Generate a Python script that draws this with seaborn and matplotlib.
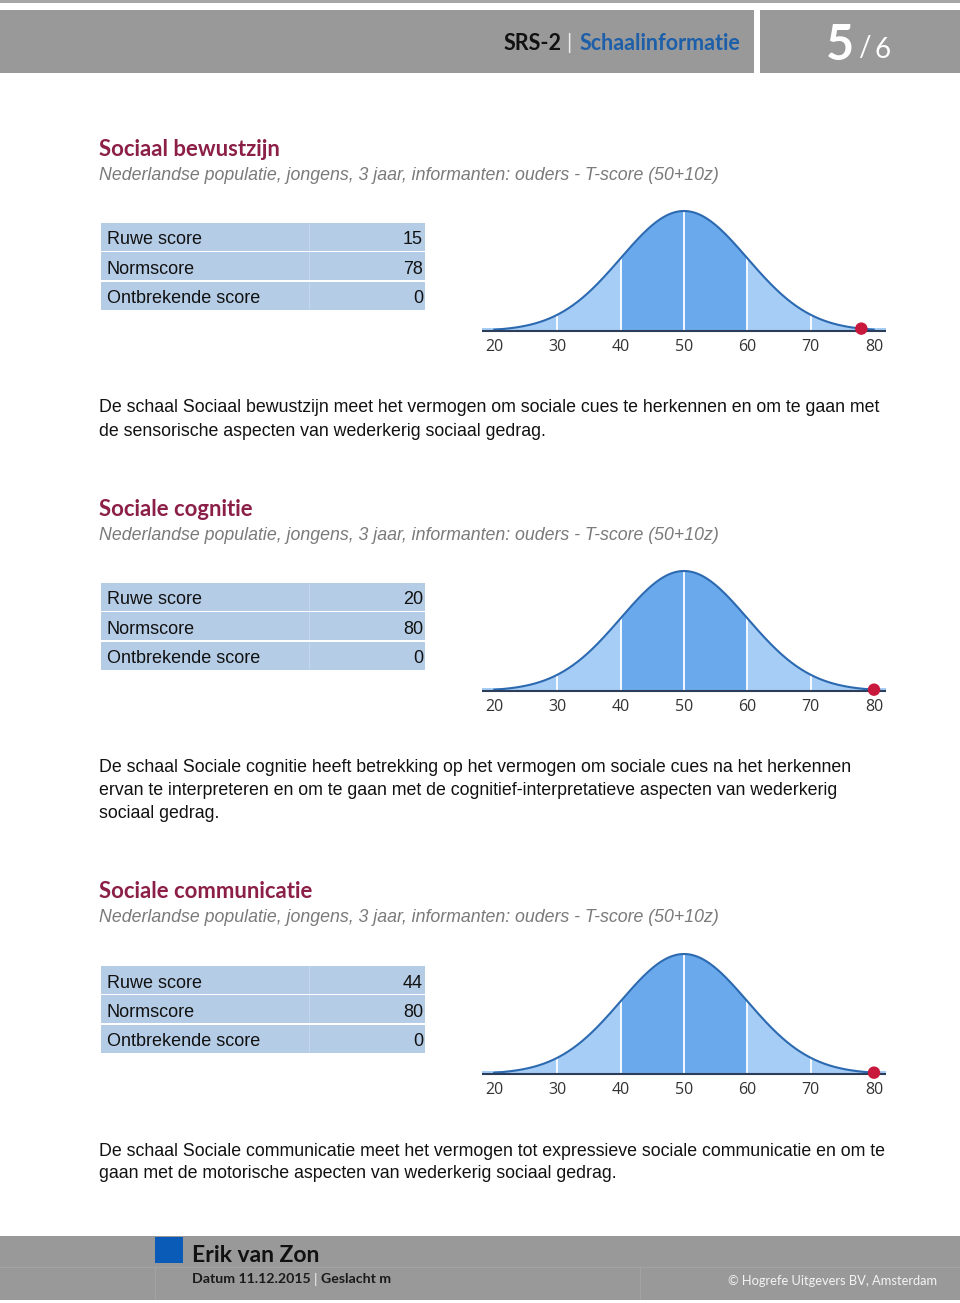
import numpy as np
import matplotlib
matplotlib.use("Agg")
import matplotlib.pyplot as plt
from matplotlib.patches import Rectangle
import seaborn as sns

# ---------------- data ----------------
scale_titles = ["Sociaal bewustzijn", "Sociale cognitie", "Sociale communicatie"]
subtitle = "Nederlandse populatie, jongens, 3 jaar, informanten: ouders - T-score (50+10z)"
row_labels = ["Ruwe score", "Normscore", "Ontbrekende score"]
raw_scores = [15, 20, 44]
norm_scores = [78, 80, 80]
missing_scores = [0, 0, 0]
descriptions = [
    ["De schaal Sociaal bewustzijn meet het vermogen om sociale cues te herkennen en om te gaan met",
     "de sensorische aspecten van wederkerig sociaal gedrag."],
    ["De schaal Sociale cognitie heeft betrekking op het vermogen om sociale cues na het herkennen",
     "ervan te interpreteren en om te gaan met de cognitief-interpretatieve aspecten van wederkerig",
     "sociaal gedrag."],
    ["De schaal Sociale communicatie meet het vermogen tot expressieve sociale communicatie en om te",
     "gaan met de motorische aspecten van wederkerig sociaal gedrag."],
]
t_mean = 50
t_sd = 10
t_ticks = [20, 30, 40, 50, 60, 70, 80]
band_edges = [20, 40, 60, 80]
divider_scores = [30, 40, 50, 60, 70]

header_left = "SRS-2"
header_right = "Schaalinformatie"
page_no = "5"
page_total = "6"
person = "Erik van Zon"
datum = "Datum 11.12.2015"
geslacht = "Geslacht m"
copyright_txt = "© Hogrefe Uitgevers BV, Amsterdam"

# ---------------- style ----------------
sns.set_theme(style="white")
plt.rcParams['font.family'] = ['Liberation Sans', 'DejaVu Sans']

W, H = 960, 1303
fig = plt.figure(figsize=(W / 100, H / 100), dpi=100)

GRAY = "#999999"
MAROON = "#8c1f47"
BLUE_HDR = "#1d5fa8"
ROW_BG = "#b5cce6"
LIGHT = "#a6cdf6"
MED = "#6aaaec"
EDGE = "#2b69b0"
NAVY = "#2c3d5a"
RED = "#c8193d"
HEAD_FONT = ['Lato', 'DejaVu Sans']


def rect(x0, y0, x1, y1, color, **kw):
    fig.patches.append(Rectangle((x0 / W, 1 - y1 / H), (x1 - x0) / W, (y1 - y0) / H,
                                 transform=fig.transFigure, facecolor=color,
                                 edgecolor='none', **kw))


def txt(x, y, s, **kw):
    kw.setdefault('va', 'center')
    return fig.text(x / W, 1 - (y + 2) / H, s, **kw)


# header
rect(0, 0, W, 3, "#a6a6a6")
rect(0, 10, 754, 73, GRAY)
rect(760, 10, W, 73, GRAY)
t1 = txt(740, 42, header_right, ha='right', color=BLUE_HDR, fontsize=15.5,
         fontweight='bold', family=HEAD_FONT)
fig.canvas.draw()
r = fig.canvas.get_renderer()
bb = t1.get_window_extent(r)
x_sep = bb.x0 - 11
txt(x_sep, 41, "|", ha='center', color="#eeeeee", fontsize=15, family=HEAD_FONT)
txt(x_sep - 7, 42, header_left, ha='right', color="#111111", fontsize=15.5,
    fontweight='bold', family=HEAD_FONT)
txt(826, 43, page_no, ha='left', color="white", fontsize=35, fontweight='bold', family=HEAD_FONT)
txt(858, 46, "/", ha='left', color="white", fontsize=20, family=HEAD_FONT)
txt(874, 48, page_total, ha='left', color="white", fontsize=20, family=HEAD_FONT)

# footer
rect(0, 1236, W, 1300, GRAY)
rect(0, 1267, W, 1268, "#a3a3a3")
rect(155, 1268, 156, 1300, "#a3a3a3")
rect(640, 1268, 641, 1300, "#a3a3a3")
rect(155, 1237, 183, 1263, "#0a5bb8")
txt(192, 1253, person, ha='left', color="#111111", fontsize=16.5, fontweight='bold', family=HEAD_FONT)
td = txt(192, 1277, datum, ha='left', color="#1a1a1a", fontsize=10.2, fontweight='bold', family=HEAD_FONT)
fig.canvas.draw()
bb = td.get_window_extent(fig.canvas.get_renderer())
xs = bb.x1 + 5
txt(xs, 1277, "|", ha='center', color="#f2f2f2", fontsize=10.2, family=HEAD_FONT)
txt(xs + 5, 1277, geslacht, ha='left', color="#1a1a1a", fontsize=10.2, fontweight='bold', family=HEAD_FONT)
txt(937, 1279, copyright_txt, ha='right', color="#f4f4f4", fontsize=9.3, family=HEAD_FONT)

# sections
offsets = [0, 360, 743]
peak = 1.0 / (t_sd * np.sqrt(2 * np.pi))


def pdf(v):
    v = np.asarray(v, dtype=float)
    return np.exp(-0.5 * ((v - t_mean) / t_sd) ** 2) / (t_sd * np.sqrt(2 * np.pi))


px_per_unit = (874 - 494) / (t_ticks[-1] - t_ticks[0])
xmin = t_ticks[0] - (494 - 482) / px_per_unit
xmax = t_ticks[-1] + (886 - 874) / px_per_unit

for i, title in enumerate(scale_titles):
    o = offsets[i]
    txt(99, 147 + o, title, ha='left', color=MAROON, fontsize=15.9, fontweight='bold', family=HEAD_FONT)
    txt(99, 173 + o, subtitle, ha='left', color="#7a7a7a", fontsize=12.8, style='italic')

    vals = [raw_scores[i], norm_scores[i], missing_scores[i]]
    for j, (lab, v) in enumerate(zip(row_labels, vals)):
        top = 223 + o + j * 29.3
        rect(101, top, 425, top + 28, ROW_BG)
        rect(309, top, 310, top + 28, "#c4d7ec")
        txt(107, top + 15, lab, ha='left', color="#111111", fontsize=13)
        txt(423, top + 15, str(v), ha='right', color="#111111", fontsize=13)

    for k, line in enumerate(descriptions[i]):
        txt(99, 406 + o + 23 * k, line, ha='left', color="#111111", fontsize=12.8)

    # chart
    base_px = 331 + o
    ax_bottom = base_px + 2
    ax_top = 200 + o
    ax = fig.add_axes([482 / W, 1 - ax_bottom / H, (886 - 482) / W, (ax_bottom - ax_top) / H])
    ax.set_xlim(xmin, xmax)
    ax.set_ylim(-2 / 120 * peak, (base_px - ax_top) / 120 * peak)
    ax.set_facecolor('none')
    ax.patch.set_alpha(0)

    ax.axhspan(0, 3.0 / 120 * peak, color=LIGHT, zorder=1, lw=0)
    for a, b in zip(band_edges[:-1], band_edges[1:]):
        xx = np.linspace(a, b, 200)
        col = MED if (a >= 40 and b <= 60) else LIGHT
        ax.fill_between(xx, 0, pdf(xx), color=col, lw=0, zorder=2)
    for d in divider_scores:
        ax.plot([d, d], [0, float(pdf(d))], color='white', lw=1.3, zorder=3,
                solid_capstyle='butt')
    xc = np.linspace(band_edges[0], band_edges[-1], 400)
    sns.lineplot(x=xc, y=pdf(xc), ax=ax, color=EDGE, lw=1.5, zorder=4)
    ax.axhline(0, color=NAVY, lw=1.5, zorder=5)
    sns.scatterplot(x=[norm_scores[i]], y=[float(pdf(norm_scores[i]))], ax=ax, color=RED,
                    s=80, edgecolor='none', zorder=6, clip_on=False)

    ax.set_xticks(t_ticks)
    ax.set_xticklabels([str(t) for t in t_ticks], fontsize=11.5, color="#333333",
                       family=['Open Sans', 'DejaVu Sans'])
    ax.tick_params(axis='x', length=0, pad=4)
    ax.set_yticks([])
    ax.set_xlabel('')
    ax.set_ylabel('')
    for s in ax.spines.values():
        s.set_visible(False)

fig.savefig("out.png", dpi=100)
